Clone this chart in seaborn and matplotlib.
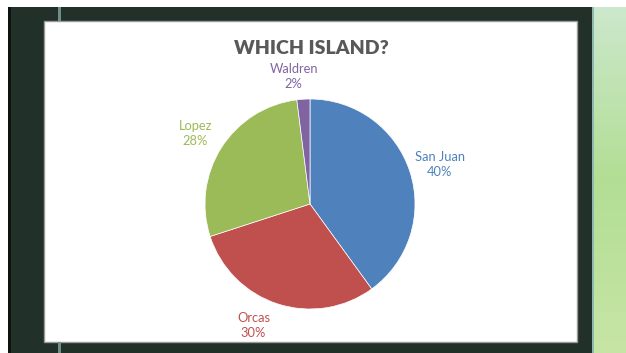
import numpy as np
import matplotlib
matplotlib.use("Agg")
import matplotlib.pyplot as plt
import matplotlib.transforms as mtransforms
import seaborn as sns
from matplotlib.patches import Rectangle

# Survey answers: which island
islands = ["San Juan", "Orcas", "Lopez", "Waldren"]
shares = [40, 30, 28, 2]
slice_colors = ["#4F81BD", "#C0504D", "#9BBB59", "#8064A2"]
title_text = "WHICH ISLAND?"

sns.set_theme(style="white")
plt.rcParams["font.family"] = ["Lato", "DejaVu Sans"]

W, H = 626, 353
fig = plt.figure(figsize=(W / 100, H / 100), dpi=100)
fig.patch.set_facecolor("white")

def px_rect(x0, y0, x1, y1, **kw):
    fig.patches.append(Rectangle((x0 / W, 1 - y1 / H), (x1 - x0) / W, (y1 - y0) / H,
                                 transform=fig.transFigure, **kw))

# slide backdrop: dark frame, green gradient strip, white chart area
px_rect(8, 7, 592, 353, facecolor="#22302a", edgecolor="none", zorder=0)
px_rect(8, 7, 11, 353, facecolor="#0c1410", edgecolor="none", zorder=0)
grad_ax = fig.add_axes([592 / W, 0, (W - 592) / W, 1 - 7 / H])
g = np.linspace(0, 1, 200)[:, None]
top = np.array([0.80, 0.91, 0.80])
mid = np.array([0.70, 0.87, 0.58])
bot = np.array([0.78, 0.90, 0.65])
img = np.where(g < 0.5, top + (mid - top) * (g / 0.5), mid + (bot - mid) * ((g - 0.5) / 0.5))
grad_ax.imshow(np.repeat(img[:, None, :], 10, axis=1).reshape(200, 10, 3), aspect="auto")
grad_ax.axis("off")
px_rect(592, 7, 594, 353, facecolor="#8fb8b0", edgecolor="none", zorder=1)
px_rect(44, 21, 577, 342, facecolor="white", edgecolor="#9a9a9a", linewidth=1.0, zorder=1)
px_rect(58, 7, 61, 21, facecolor="#6f8f86", edgecolor="none", zorder=1)
px_rect(58, 342, 61, 353, facecolor="#6f8f86", edgecolor="none", zorder=1)

# pie axes
cx, cy, r = 310, 204, 105
ax = fig.add_axes([(cx - r) / W, 1 - (cy + r) / H, 2 * r / W, 2 * r / H])
ax.set_zorder(5)
ax.set_facecolor("none")
labels = [f"{n}\n{v}%" for n, v in zip(islands, shares)]
wedges, texts = ax.pie(shares, labels=labels, colors=slice_colors, startangle=90,
                       counterclock=False, labeldistance=1.28,
                       wedgeprops=dict(edgecolor="white", linewidth=0.5),
                       textprops=dict(fontsize=9.3, ha="center", va="center", linespacing=1.3))

# nudge a few data labels (in pixels) to sit like best-fit labels
nudges = {"San Juan": (2, -2), "Orcas": (-15, 6), "Waldren": (-8, -7), "Lopez": (-1, -2)}
for t, c, name in zip(texts, slice_colors, islands):
    t.set_color(c)
    t.set_horizontalalignment("center")
    dx, dy = nudges.get(name, (0, 0))
    t.set_transform(mtransforms.offset_copy(t.get_transform(), fig=fig,
                                            x=dx, y=dy, units="dots"))
ax.set_xlim(-1, 1)
ax.set_ylim(-1, 1)
ax.set_aspect("equal")

fig.text(311 / W, 1 - 49 / H, title_text, ha="center", va="center",
         fontsize=14, fontweight="heavy", color="#595959", zorder=6)

fig.savefig("out.png", dpi=100)
